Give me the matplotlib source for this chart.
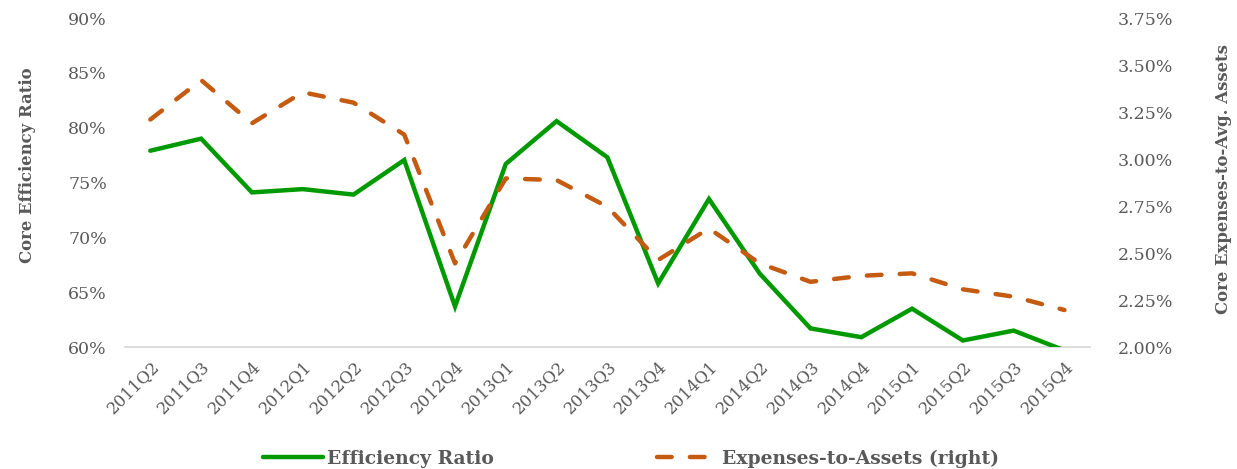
import matplotlib
matplotlib.use("Agg")
import matplotlib.pyplot as plt
from matplotlib.ticker import FuncFormatter

quarters = [
    "2011Q2", "2011Q3", "2011Q4", "2012Q1", "2012Q2", "2012Q3", "2012Q4",
    "2013Q1", "2013Q2", "2013Q3", "2013Q4", "2014Q1", "2014Q2", "2014Q3",
    "2014Q4", "2015Q1", "2015Q2", "2015Q3", "2015Q4",
]
efficiency = [
    77.9, 79.0, 74.1, 74.4, 73.9, 77.05, 63.7, 76.7, 80.6, 77.3,
    65.8, 73.5, 66.7, 61.7, 60.9, 63.5, 60.6, 61.5, 59.7,
]
expenses = [
    3.21, 3.42, 3.19, 3.355, 3.30, 3.13, 2.445, 2.897, 2.888, 2.746,
    2.463, 2.631, 2.445, 2.347, 2.379, 2.392, 2.307, 2.268, 2.197,
]

green = "#009a00"
orange = "#c55a11"
gray = "#595959"
font = "DejaVu Serif"

plt.rcParams["font.family"] = font

fig = plt.figure(figsize=(12.37, 4.69), dpi=100)
ax = fig.add_axes([0.101, 0.26, 0.78, 0.7016])
ax2 = ax.twinx()

x = list(range(len(quarters)))
l1, = ax.plot(x, efficiency, color=green, lw=3.2, solid_capstyle="round",
              solid_joinstyle="miter", zorder=3)
l2, = ax2.plot(x, expenses, color=orange, lw=3.2, dashes=(3.3, 4.1),
               dash_capstyle="round", zorder=3)

ax.set_xlim(-0.5, len(quarters) - 0.5)
ax.set_ylim(60, 90)
ax.set_yticks(range(60, 91, 5))
ax.yaxis.set_major_formatter(FuncFormatter(lambda v, p: f"{v:.0f}%"))
ax2.set_ylim(2.0, 3.75)
ax2.set_yticks([2.0, 2.25, 2.5, 2.75, 3.0, 3.25, 3.5, 3.75])
ax2.yaxis.set_major_formatter(FuncFormatter(lambda v, p: f"{v:.2f}%"))

ax.set_xticks(x)
ax.set_xticklabels(quarters, rotation=45, ha="right", rotation_mode="anchor",
                   fontsize=12, color=gray)

for a in (ax, ax2):
    for s in a.spines.values():
        s.set_visible(False)
    a.tick_params(length=0, labelcolor=gray)
ax.tick_params(axis="y", pad=13, labelsize=12.5)
ax.tick_params(axis="x", pad=8, labelsize=12)
ax2.tick_params(axis="y", pad=20, labelsize=12.5)

ax.axhline(60, color="#d9d9d9", lw=1.3, zorder=1, clip_on=False)

ax.set_ylabel("Core Efficiency Ratio", fontsize=11.9, fontweight="bold",
              color=gray, labelpad=23)
ax.yaxis.label.set_y(0.553)
ax2.set_ylabel("Core Expenses-to-Avg. Assets", fontsize=11.9,
               fontweight="bold", color=gray, labelpad=30)
ax2.yaxis.label.set_y(0.51)

fig.legend([l1, l2], ["Efficiency Ratio", "Expenses-to-Assets (right)"],
           loc="center", bbox_to_anchor=(0.51, 0.022), ncol=2, frameon=False,
           handlelength=3.2, columnspacing=8.7, handletextpad=0.25,
           prop={"family": font, "weight": "bold", "size": 13.5},
           labelcolor=gray)

fig.savefig("out.png", dpi=100)
